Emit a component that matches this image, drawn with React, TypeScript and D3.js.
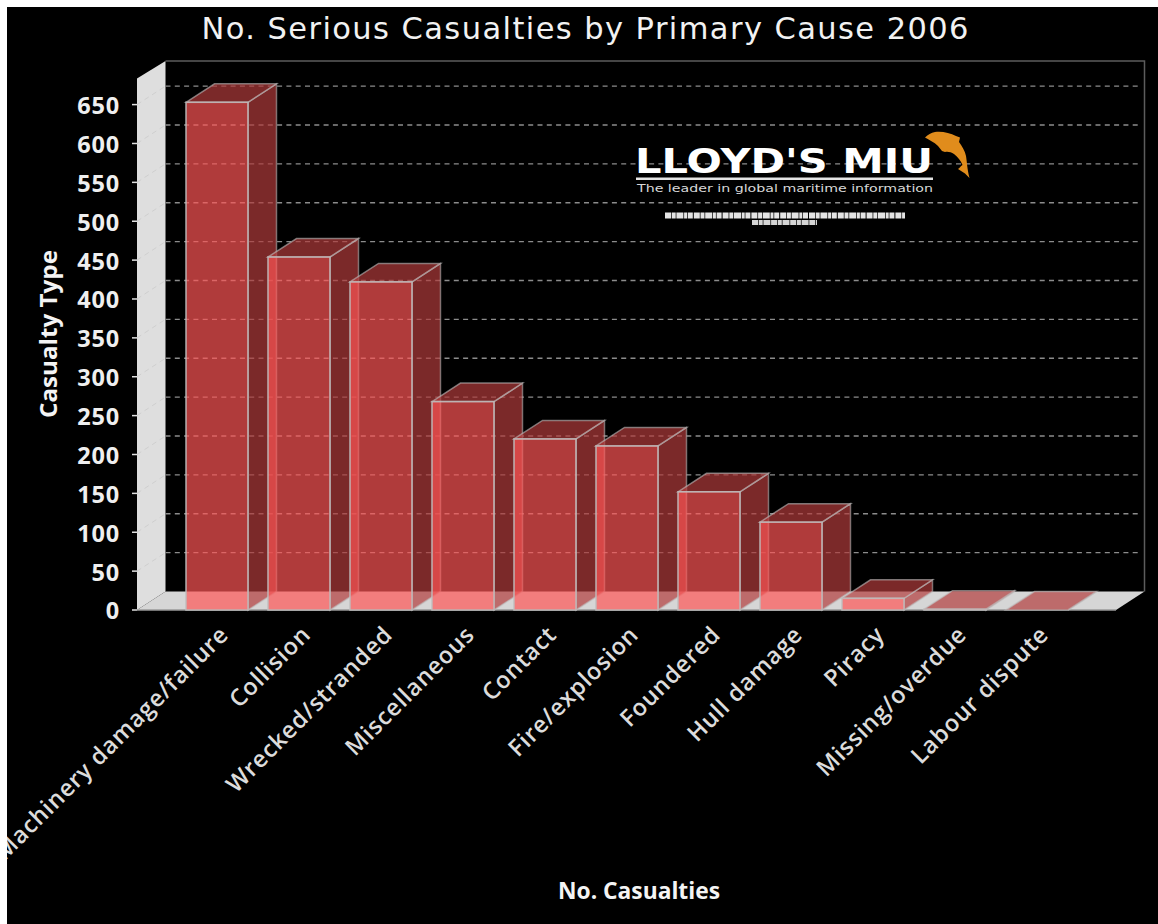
import React from "react";
import * as d3 from "d3";

// Casualty counts per primary cause, 2006
const causes = [
  "Machinery damage/failure",
  "Collision",
  "Wrecked/stranded",
  "Miscellaneous",
  "Contact",
  "Fire/explosion",
  "Foundered",
  "Hull damage",
  "Piracy",
  "Missing/overdue",
  "Labour dispute",
];
const casualties = [653, 454, 422, 268, 220, 211, 152, 113, 15, 1, 0];
const tickValues = [0, 50, 100, 150, 200, 250, 300, 350, 400, 450, 500, 550, 600, 650];

const chartTitle = "No. Serious Casualties by Primary Cause 2006";
const valueAxisTitle = "Casualty Type";
const categoryAxisTitle = "No. Casualties";

const WIDTH = 1158;
const HEIGHT = 924;
const DEPTH_X = 28.5;
const DEPTH_Y = 18.5;
const BASE_Y = 610;
const LEFT_X = 137;
const RIGHT_X = 1116;
const TOP_Y = 78.5;

const y = d3.scaleLinear().domain([0, 650]).range([BASE_Y, 104.6]);
const x = d3.scaleBand<string>().domain(causes).range([186, 1068]).paddingInner(20 / 82).paddingOuter(0);

const FRONT = "rgb(255,85,85)";
const SHADE = "rgb(178,59,59)";
const BAR_ALPHA = 0.69;
const EDGE = "rgb(190,190,190)";

const poly = (pts: [number, number][]) => {
  const p = d3.path();
  pts.forEach(([a, b], i) => (i ? p.lineTo(a, b) : p.moveTo(a, b)));
  p.closePath();
  return p.toString();
};

function Bar({ name, value }: { name: string; value: number }) {
  const x0 = x(name) as number;
  const x1 = x0 + x.bandwidth();
  const top = y(value);
  return (
    <g>
      <path
        d={poly([[x1, BASE_Y], [x1 + DEPTH_X, BASE_Y - DEPTH_Y], [x1 + DEPTH_X, top - DEPTH_Y], [x1, top]])}
        fill={SHADE}
        fillOpacity={BAR_ALPHA}
        stroke={EDGE}
        strokeOpacity={0.55}
        strokeWidth={1.5}
      />
      <path
        d={poly([[x0, top], [x0 + DEPTH_X, top - DEPTH_Y], [x1 + DEPTH_X, top - DEPTH_Y], [x1, top]])}
        fill={SHADE}
        fillOpacity={BAR_ALPHA}
        stroke={EDGE}
        strokeOpacity={0.6}
        strokeWidth={1.5}
      />
      <rect
        x={x0}
        y={top}
        width={x.bandwidth()}
        height={BASE_Y - top}
        fill={FRONT}
        fillOpacity={BAR_ALPHA}
        stroke={EDGE}
        strokeOpacity={0.85}
        strokeWidth={1.6}
      />
    </g>
  );
}

export default function App() {
  return (
    <svg
      width={WIDTH}
      height={HEIGHT}
      style={{ position: "fixed", left: 0, top: 0, display: "block", background: "#fff" }}
    >
      <defs>
        <clipPath id="panel">
          <rect x={7} y={7} width={WIDTH - 7} height={HEIGHT - 7} />
        </clipPath>
      </defs>
      <rect x={7} y={7} width={WIDTH - 7} height={HEIGHT - 7} fill="#000" />

      {/* Title */}
      <text
        x={585}
        y={39}
        textAnchor="middle"
        fontFamily="'DejaVu Sans'"
        fontSize={30.5}
        fill="#f2f2f2"
        textLength={767}
        lengthAdjust="spacing"
      >
        {chartTitle}
      </text>

      {/* Walls and floor of the 3D plot box */}
      <path
        d={poly([[LEFT_X, TOP_Y], [LEFT_X + DEPTH_X, TOP_Y - DEPTH_Y + 1], [LEFT_X + DEPTH_X, BASE_Y - DEPTH_Y], [LEFT_X, BASE_Y]])}
        fill="#dedede"
      />
      <path
        d={poly([[LEFT_X, BASE_Y], [LEFT_X + DEPTH_X, BASE_Y - DEPTH_Y], [RIGHT_X + DEPTH_X, BASE_Y - DEPTH_Y], [RIGHT_X, BASE_Y]])}
        fill="#d6d6d6"
      />
      <path
        d={`M${LEFT_X + DEPTH_X},${TOP_Y - DEPTH_Y + 1}H${RIGHT_X + DEPTH_X}V${BASE_Y - DEPTH_Y}`}
        fill="none"
        stroke="#5c5c5c"
        strokeWidth={1.5}
      />
      <line x1={LEFT_X} x2={RIGHT_X} y1={BASE_Y} y2={BASE_Y} stroke="#9a9a9a" strokeWidth={1.5} />

      {/* Gridlines on the back wall and their slant across the side wall */}
      {tickValues.filter((v) => v > 0).map((v) => (
        <g key={v}>
          <line
            x1={LEFT_X}
            x2={LEFT_X + DEPTH_X}
            y1={y(v)}
            y2={y(v) - DEPTH_Y}
            stroke="#cfcfcf"
            strokeDasharray="5 4"
          />
          <line
            x1={LEFT_X + DEPTH_X}
            x2={RIGHT_X + DEPTH_X - 3}
            y1={y(v) - DEPTH_Y}
            y2={y(v) - DEPTH_Y}
            stroke="#8c8c8c"
            strokeWidth={1.4}
            strokeDasharray="5 4.3"
          />
        </g>
      ))}

      {/* Logo */}
      <g>
        <text
          x={635}
          y={173}
          fontFamily="'DejaVu Sans'"
          fontWeight={700}
          fontSize={34}
          fill="#fff"
          textLength={298}
          lengthAdjust="spacingAndGlyphs"
        >
          LLOYD'S MIU
        </text>
        <rect x={636} y={177.5} width={297} height={2.5} fill="#e4e4e4" />
        <text
          x={637}
          y={192}
          fontFamily="'DejaVu Sans'"
          fontSize={10.5}
          fill="#d8d8d8"
          textLength={296}
          lengthAdjust="spacingAndGlyphs"
        >
          The leader in global maritime information
        </text>
        <path
          d="M925,137.5 C928,134.5 931,133 935,132 C942,131 950,133 956,136 L960,137.5 L959,142 C962,146 965,151 966,156 C967,162 967,168 969.5,178 L965,173.5 L958,169 C960,167.5 961,166 962.5,165 C961,161 958,157 954,154 C951,152 948,151.5 945,152 L942,151 L938,146 C934,142 929,140 925,137.5 Z"
          fill="#e08c1c"
        />
        <line x1={665} x2={905} y1={215.5} y2={215.5} stroke="#e4e4e4" strokeWidth={6} strokeDasharray="6 0.7 4 0.7 7 0.7 3 0.7 5 1" />
        <line x1={752} x2={817} y1={222.5} y2={222.5} stroke="#d4d4d4" strokeWidth={5} strokeDasharray="6 0.7 4 0.7 7 0.7" />
      </g>

      {/* Bars, painted left to right so each overlaps its neighbour's side face */}
      {causes.map((c, i) => (
        <Bar key={c} name={c} value={casualties[i]} />
      ))}

      {/* Value axis */}
      {tickValues.map((v) => (
        <g key={v}>
          <line x1={132} x2={LEFT_X} y1={y(v)} y2={y(v)} stroke="#e0e0e0" strokeWidth={1.5} />
          <text
            x={120}
            y={y(v) + 9.5 - (v === 0 ? 1 : 0)}
            textAnchor="end"
            fontFamily="'Open Sans'"
            fontWeight={700}
            fontSize={23.5}
            fill="#efefef"
            letterSpacing={0.8}
          >
            {v}
          </text>
        </g>
      ))}
      <text
        transform="translate(57,334) rotate(-90)"
        textAnchor="middle"
        fontFamily="'Open Sans'"
        fontWeight={700}
        fontSize={23}
        fill="#f4f4f4"
        textLength={168}
        lengthAdjust="spacingAndGlyphs"
      >
        {valueAxisTitle}
      </text>

      {/* Category axis */}
      <g clipPath="url(#panel)">
        {causes.map((c) => (
          <text
            key={c}
            transform={`translate(${(x(c) as number) + x.bandwidth() / 2 + 13},${636}) rotate(-45)`}
            textAnchor="end"
            fontFamily="'Open Sans'"
            fontWeight={600}
            fontSize={23.5}
            fill="#dcdcdc"
            letterSpacing={0.8}
          >
            {c}
          </text>
        ))}
      </g>
      <text
        x={639}
        y={899}
        textAnchor="middle"
        fontFamily="'Open Sans'"
        fontWeight={700}
        fontSize={23}
        fill="#f4f4f4"
        textLength={162}
        lengthAdjust="spacingAndGlyphs"
      >
        {categoryAxisTitle}
      </text>
    </svg>
  );
}
